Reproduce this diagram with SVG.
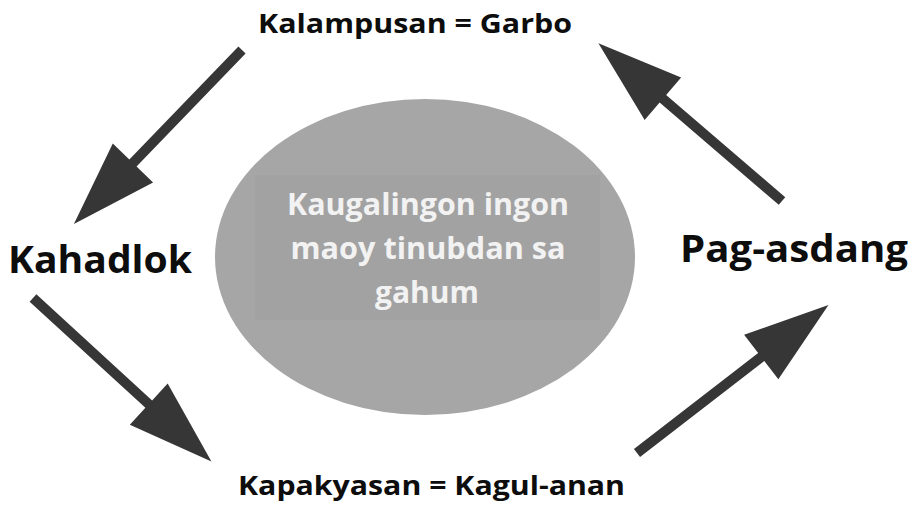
<svg xmlns="http://www.w3.org/2000/svg" xmlns:xlink="http://www.w3.org/1999/xlink" width="915" height="507" viewBox="0 0 915 507">
  <style>
    .lbl { font-family: "Open Sans", "Liberation Sans", sans-serif; font-weight: bold; fill: #0d0d0d; }
    .ctr { font-family: "Open Sans", "Liberation Sans", sans-serif; font-weight: bold; fill: #f2f2f2; font-size: 30px; text-anchor: middle; }
    .arrow { fill: #363636; }
  </style>
  <defs>
    <path id="arr" d="M0,-5 L157,-5 L157,-28 L242,0 L157,28 L157,5 L0,5 Z"/>
  </defs>
  <rect width="915" height="507" fill="#ffffff"/>

  <g id="center">
    <ellipse cx="425" cy="257" rx="210" ry="158" fill="#a6a6a6"/>
    <rect x="255" y="175" width="345" height="145" fill="#a2a2a2"/>
    <text class="ctr" x="428" y="215" textLength="282" lengthAdjust="spacingAndGlyphs">Kaugalingon ingon</text>
    <text class="ctr" x="428" y="259" textLength="275" lengthAdjust="spacingAndGlyphs">maoy tinubdan sa</text>
    <text class="ctr" x="427" y="303" textLength="104" lengthAdjust="spacingAndGlyphs">gahum</text>
  </g>

  <g id="kalampusan">
    <text class="lbl" x="258" y="33" font-size="27" textLength="314" lengthAdjust="spacingAndGlyphs">Kalampusan = Garbo</text>
  </g>
  <g id="kahadlok">
    <text class="lbl" x="8" y="273" font-size="38" textLength="184" lengthAdjust="spacingAndGlyphs">Kahadlok</text>
  </g>
  <g id="pag-asdang">
    <text class="lbl" x="680" y="262" font-size="37" textLength="228" lengthAdjust="spacingAndGlyphs">Pag-asdang</text>
  </g>
  <g id="kapakyasan">
    <text class="lbl" x="238" y="495" font-size="27" textLength="387" lengthAdjust="spacingAndGlyphs">Kapakyasan = Kagul-anan</text>
  </g>

  <g id="connectors" class="arrow">
    <use xlink:href="#arr" href="#arr" transform="translate(242,50) rotate(134)"/>
    <use xlink:href="#arr" href="#arr" transform="translate(782,201) rotate(-139.35)"/>
    <use xlink:href="#arr" href="#arr" transform="translate(33,298) rotate(42.5)"/>
    <use xlink:href="#arr" href="#arr" transform="translate(637,453) rotate(-37.7)"/>
  </g>
</svg>
